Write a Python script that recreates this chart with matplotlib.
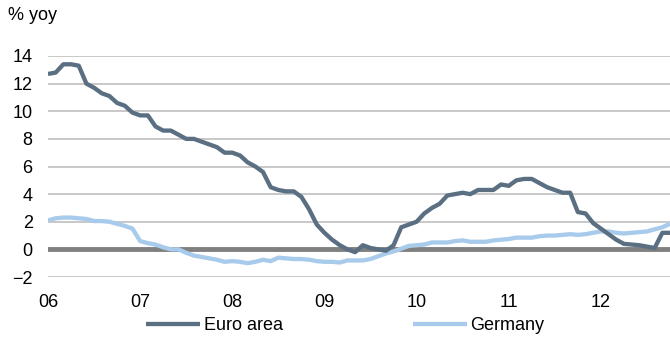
import numpy as np
import matplotlib.pyplot as plt

plt.rcParams["font.family"] = ["Liberation Sans", "DejaVu Sans"]

# Monthly, Jan 2006 onwards (% yoy)
euro_area = [12.7, 12.8, 13.4, 13.4, 13.3, 12.0, 11.7, 11.3, 11.1, 10.6, 10.4, 9.9,
             9.7, 9.7, 8.9, 8.6, 8.6, 8.3, 8.0, 8.0, 7.8, 7.6, 7.4, 7.0,
             7.0, 6.8, 6.3, 6.0, 5.6, 4.5, 4.3, 4.2, 4.2, 3.8, 2.9, 1.8,
             1.2, 0.7, 0.3, 0.0, -0.2, 0.3, 0.1, 0.0, -0.1, 0.3, 1.6, 1.8,
             2.0, 2.6, 3.0, 3.3, 3.9, 4.0, 4.1, 4.0, 4.3, 4.3, 4.3, 4.7,
             4.6, 5.0, 5.1, 5.1, 4.8, 4.5, 4.3, 4.1, 4.1, 2.7, 2.6, 1.9,
             1.5, 1.1, 0.7, 0.4, 0.35, 0.3, 0.2, 0.1, 1.2, 1.2]
germany = [2.1, 2.25, 2.3, 2.3, 2.25, 2.2, 2.05, 2.05, 2.0, 1.85, 1.7, 1.5,
           0.6, 0.45, 0.35, 0.15, 0.0, 0.0, -0.25, -0.45, -0.55, -0.65, -0.75, -0.9,
           -0.85, -0.9, -1.0, -0.9, -0.75, -0.85, -0.6, -0.65, -0.7, -0.7, -0.75, -0.85,
           -0.9, -0.9, -0.95, -0.8, -0.8, -0.8, -0.7, -0.5, -0.3, -0.15, 0.05, 0.25,
           0.3, 0.35, 0.5, 0.5, 0.5, 0.6, 0.65, 0.55, 0.55, 0.55, 0.65, 0.7,
           0.75, 0.85, 0.85, 0.85, 0.95, 1.0, 1.0, 1.05, 1.1, 1.05, 1.1, 1.2,
           1.3, 1.3, 1.2, 1.15, 1.2, 1.25, 1.3, 1.45, 1.6, 1.85]
year_labels = ["06", "07", "08", "09", "10", "11", "12"]

months = np.arange(len(euro_area))
fs = 13

fig = plt.figure(figsize=(6.7, 3.38), dpi=100)
ax = fig.add_axes([48 / 670, 1 - 277 / 338, 1 - 48 / 670, (277 - 56) / 338])

ax.set_ylim(-2, 14)
ax.set_xlim(0, len(euro_area) - 1)
ax.set_yticks(range(-2, 15, 2))
ax.set_xticks(np.arange(len(year_labels)) * 12)
ax.set_xticklabels(year_labels)

ax.grid(axis="y", color="#bfbfbf", linewidth=1.2)
ax.axhline(0, color="#808080", linewidth=3.5, zorder=2)

ax.plot(months, euro_area, color="#5b6f82", linewidth=3.1, label="Euro area", zorder=4,
        solid_capstyle="butt")
ax.plot(months, germany, color="#a8cbeb", linewidth=3.1, label="Germany", zorder=3,
        solid_capstyle="butt")

for s in ax.spines.values():
    s.set_visible(False)
ax.tick_params(length=0, labelsize=fs, colors="black")
ax.tick_params(axis="y", pad=11)
ax.tick_params(axis="x", pad=12.5)
ax.set_axisbelow(True)

fig.text(8 / 670, 1 - 16 / 338, "% yoy", fontsize=fs, va="center", ha="left")

fig.legend(loc="center", bbox_to_anchor=(345 / 670, 1 - 326 / 338), ncol=2, frameon=False,
           fontsize=fs, handlelength=3.0, handletextpad=0.2, columnspacing=7.2,
           borderpad=0, borderaxespad=0)

plt.savefig("out.png", dpi=100)
